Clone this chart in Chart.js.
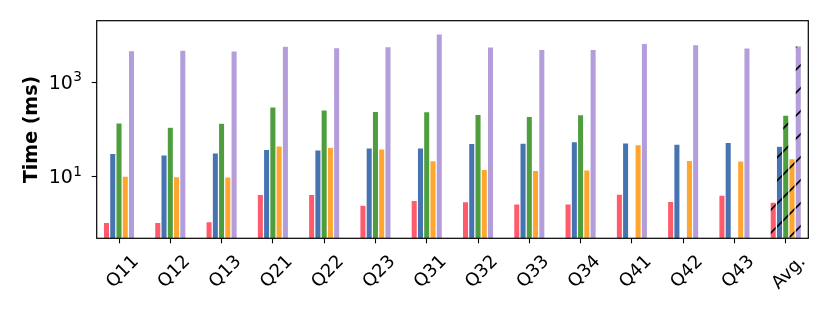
<!DOCTYPE html>
<html>
<head>
<meta charset="utf-8">
<script src="https://cdn.jsdelivr.net/npm/chart.js@4/dist/chart.umd.min.js"></script>
<style>
  html, body { margin: 0; padding: 0; background: #fff; }
  #wrap { width: 830px; height: 319px; }
</style>
</head>
<body>
<div id="wrap"><canvas id="timeChart"></canvas></div>
<script>
const categories = ['Q11', 'Q12', 'Q13', 'Q21', 'Q22', 'Q23', 'Q31', 'Q32', 'Q33', 'Q34', 'Q41', 'Q42', 'Q43', 'Avg.'];
const redTimes    = [1.09, 1.09, 1.12, 4.25, 4.25, 2.51, 3.16, 2.96, 2.65, 2.67, 4.3, 3.0, 4.1, 2.92];
const blueTimes   = [31, 29, 32, 38, 37, 40.5, 40.5, 50.8, 51.5, 55, 52, 49, 53, 44];
const greenTimes  = [138, 111, 135, 298, 257, 241, 237, 208, 189, 204, null, null, null, 201];
const orangeTimes = [10.3, 10, 9.9, 45, 42, 38.5, 21.8, 14.3, 13.6, 13.9, 47.5, 22.2, 21.5, 24];
const purpleTimes = [4610, 4700, 4540, 5710, 5330, 5610, 10400, 5520, 4930, 4930, 6600, 6170, 5250, 5800];
const yTickValues = [10, 1000];
const yTickExponents = ['1', '3'];

const series = [
    { label: 'A', data: redTimes, color: '#ff5b6c' },
    { label: 'B', data: blueTimes, color: '#4574b0' },
    { label: 'C', data: greenTimes, color: '#4e9e3e' },
    { label: 'D', data: orangeTimes, color: '#ffa630' },
    { label: 'E', data: purpleTimes, color: '#b39ddb' }
];

// hatched fill ('/') for the average group, anchored to the canvas origin
function hatch(color) {
    const size = 23;
    const c = document.createElement('canvas');
    c.width = size;
    c.height = size;
    const g = c.getContext('2d');
    g.fillStyle = color;
    g.fillRect(0, 0, size, size);
    g.strokeStyle = '#000';
    g.lineWidth = 1.7;
    [-23 + 14.7, 14.7, 14.7 + 23].forEach(k => {
        g.beginPath();
        g.moveTo(k + 10, -10);
        g.lineTo(-10, k + 10);
        g.stroke();
    });
    return g.createPattern(c, 'repeat');
}

const lastIdx = categories.length - 1;

const frame = {
    id: 'frame',
    afterDraw(chart) {
        const { ctx, chartArea: a, scales } = chart;
        ctx.save();
        ctx.strokeStyle = '#000';
        ctx.lineWidth = 1.2;
        ctx.strokeRect(a.left, a.top, a.right - a.left, a.bottom - a.top);
        // y tick labels as 10 with superscript exponent
        ctx.fillStyle = '#000';
        ctx.textAlign = 'right';
        ctx.textBaseline = 'alphabetic';
        yTickValues.forEach((v, i) => {
            const y = scales.y.getPixelForValue(v);
            const right = 82;
            ctx.font = '13.6px "DejaVu Sans"';
            ctx.fillText(yTickExponents[i], right, y - 1);
            const w = ctx.measureText(yTickExponents[i]).width;
            ctx.font = '19px "DejaVu Sans"';
            ctx.fillText('10', right - w - 0.5, y + 6.5);
        });
        ctx.restore();
    }
};

new Chart(document.getElementById('timeChart'), {
    type: 'bar',
    data: {
        datasets: series.map(s => ({
            label: s.label,
            data: s.data.map((v, i) => ({ x: i, y: v })),
            backgroundColor: s.data.map((v, i) => i === lastIdx ? hatch(s.color) : s.color),
            borderColor: 'rgba(255, 255, 255, 0.7)',
            borderWidth: 0.6,
            categoryPercentage: 0.61,
            barPercentage: 1.0
        }))
    },
    options: {
        responsive: true,
        maintainAspectRatio: false,
        animation: false,
        layout: {
            padding: { top: 20.7, right: 21.7, left: 0, bottom: 0 }
        },
        scales: {
            x: {
                type: 'linear',
                offset: false,
                min: -0.435,
                max: lastIdx + 0.44,
                afterBuildTicks: scale => {
                    scale.ticks = categories.map((c, i) => ({ value: i }));
                },
                afterFit: scale => { scale.height = 80.7; },
                grid: {
                    offset: false,
                    drawOnChartArea: false,
                    drawTicks: true,
                    tickLength: 5,
                    tickWidth: 1.1,
                    tickColor: '#000'
                },
                border: { display: false },
                ticks: {
                    autoSkip: false,
                    maxRotation: 45,
                    minRotation: 45,
                    padding: 8,
                    labelOffset: 17,
                    color: '#000',
                    font: { size: 18, family: "'DejaVu Sans', sans-serif" },
                    callback: v => categories[v]
                }
            },
            y: {
                type: 'logarithmic',
                min: 0.5,
                max: 19800,
                afterBuildTicks: scale => {
                    scale.ticks = yTickValues.map(v => ({ value: v, major: true }));
                },
                afterFit: scale => { scale.width = 96.7; },
                grid: {
                    drawOnChartArea: false,
                    drawTicks: true,
                    tickLength: 5,
                    tickWidth: 1.1,
                    tickColor: '#000'
                },
                border: { display: false },
                ticks: {
                    color: '#000',
                    callback: () => ''
                },
                title: {
                    display: true,
                    text: 'Time (ms)',
                    color: '#000',
                    padding: { top: 21, bottom: 0 },
                    font: { size: 19, weight: 'bold', family: "'DejaVu Sans', sans-serif" }
                }
            }
        },
        plugins: {
            legend: { display: false },
            tooltip: { enabled: false }
        }
    },
    plugins: [frame]
});
</script>
</body>
</html>
